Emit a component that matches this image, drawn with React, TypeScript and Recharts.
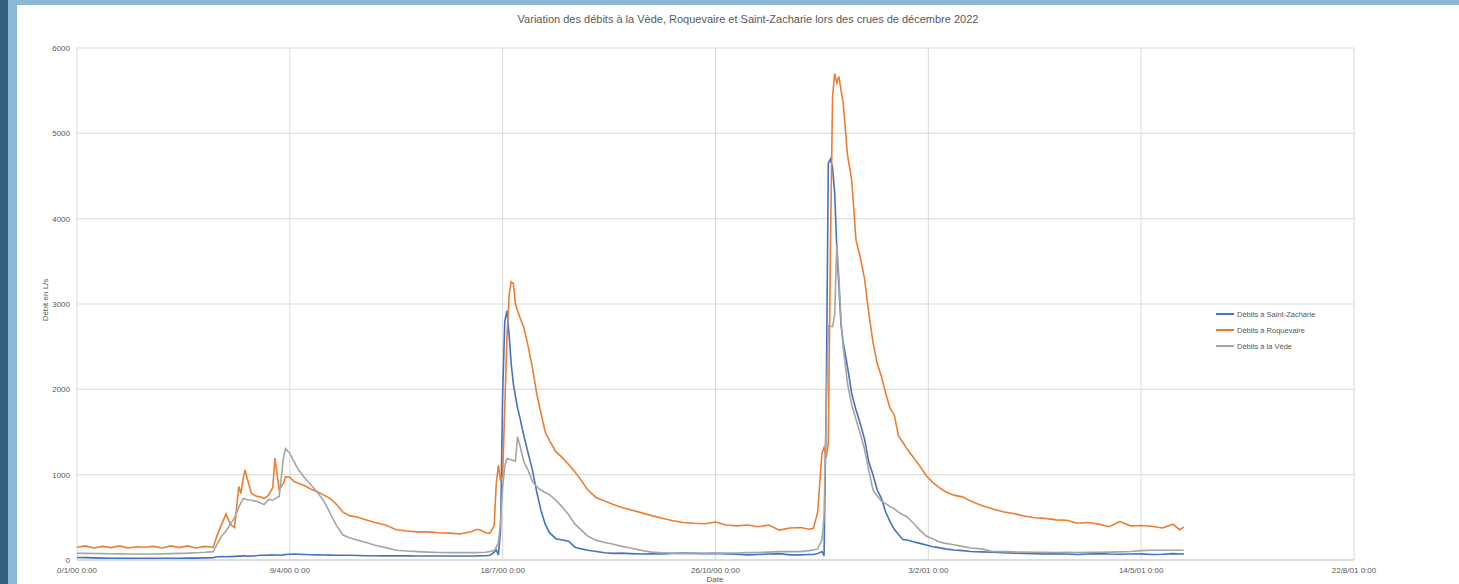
import { LineChart, Line, XAxis, YAxis, CartesianGrid, Legend } from 'recharts'

// jours (numéro de série Excel) de chaque mesure
const days = [
  0, 4, 8, 12, 16, 20, 24, 28, 32, 36, 40, 44, 48, 52, 56, 60, 64,
  66, 68, 70, 72, 74, 76, 77, 78, 79, 80,
  82, 84, 86, 88, 90, 92, 93, 95, 97, 98,
  100, 102, 104, 107, 110, 113, 116, 119, 122, 125,
  128, 132, 136, 140, 145, 150, 155, 160, 165, 170,
  175, 180, 185, 188, 190, 192, 194, 196, 197, 198,
  199, 200, 201, 202, 203, 204, 205, 206, 207, 208,
  210, 212, 214, 216, 218, 220, 222, 225, 228, 231,
  234, 237, 240, 244, 248, 252, 256, 260, 265, 270,
  275, 280, 285, 290, 295, 300, 305, 310, 315, 320,
  325, 330, 335, 340, 344, 346, 348, 350, 351, 352,
  353, 354, 355, 356, 357, 358, 359, 360, 362, 364,
  366, 368, 370, 372, 374, 376, 378, 380, 382, 384,
  386, 388, 390, 393, 396, 399, 402, 405, 408, 412,
  416, 420, 425, 430, 435, 440, 445, 450, 455, 460,
  465, 470, 475, 480, 485, 490, 495, 500, 505, 510,
  515, 518, 520
]

const saintZacharie = [
  30, 28, 25, 22, 20, 20, 20, 20, 20, 20, 20, 20, 20, 22, 22, 25, 28,
  38, 40, 38, 40, 42, 45, 45, 48, 50, 45,
  46, 50, 55, 55, 58, 57, 58, 58, 60, 65,
  68, 70, 68, 65, 62, 60, 58, 57, 56, 55,
  55, 52, 50, 50, 48, 48, 48, 47, 47, 47,
  47, 47, 47, 48, 50, 50, 55, 90, 117, 60,
  350, 1950, 2800, 2920, 2650, 2300, 2070, 1920, 1780, 1680,
  1450, 1250, 1050, 800, 580, 420, 320, 250, 235, 220,
  150, 130, 115, 100, 85, 78, 80, 75, 70, 72,
  70, 78, 80, 78, 75, 78, 72, 68, 60, 65,
  70, 75, 60, 60, 65, 65, 75, 100, 50, 1800,
  4650, 4700, 4600, 4300, 3650, 3200, 2750, 2550, 2265, 1950,
  1760, 1600, 1420, 1150, 1000, 820, 720, 560, 450, 360,
  300, 240, 234, 215, 195, 175, 156, 145, 130, 117,
  110, 100, 95, 90, 85, 80, 78, 75, 70, 75,
  70, 65, 70, 75, 70, 68, 70, 72, 65, 68,
  75, 70, 72
]

const roquevaire = [
  150, 165, 140, 160, 145, 165, 140, 155, 150, 160, 140, 165, 145, 165, 140, 160, 150,
  300, 420, 540, 420, 380, 860, 780, 950, 1055, 950,
  780, 750, 740, 720, 760, 850, 1195, 820, 900, 975,
  970, 920, 900, 870, 830, 800, 760, 720, 650, 560,
  520, 500, 470, 440, 410, 355, 340, 330, 330, 320,
  315, 305, 330, 360, 345, 320, 315, 400, 900, 1110,
  920, 1000, 1800, 2600, 3100, 3260, 3240, 3000, 2920, 2850,
  2720, 2500, 2250, 1950, 1720, 1500, 1400, 1270, 1200, 1120,
  1030, 930, 820, 730, 690, 650, 615, 590, 555, 520,
  490, 460, 440, 430, 425, 445, 410, 400, 410, 390,
  410, 350, 375, 380, 360, 371, 560, 1250, 1320, 1200,
  1370, 3630, 5430, 5700, 5590, 5665, 5500, 5350, 4750, 4450,
  3750, 3550, 3300, 2900, 2550, 2300, 2150, 1950, 1780, 1700,
  1450, 1380, 1300, 1200, 1100, 990, 910, 850, 800, 760,
  740, 690, 640, 600, 565, 545, 515, 495, 488, 470,
  465, 430, 440, 420, 390, 450, 400, 405, 395, 375,
  420, 355, 385
]

const vede = [
  78, 78, 76, 75, 74, 72, 70, 70, 70, 70, 72, 75, 78, 80, 85, 90, 98,
  195, 280, 340, 420, 490, 620, 670, 720, 715, 705,
  700, 690, 670, 650, 710, 700, 720, 745, 1200, 1305,
  1250, 1150, 1060, 960, 880, 790, 690, 545, 400, 293,
  260, 232, 205, 172, 145, 115, 105, 98, 92, 88,
  86, 86, 86, 86, 88, 90, 100, 110, 150, 200,
  450, 850, 1100, 1190, 1180, 1175, 1165, 1160, 1445, 1350,
  1150, 1050, 920, 860, 820, 790, 765, 700, 620, 530,
  420, 350, 280, 230, 205, 185, 160, 140, 115, 92,
  85, 80, 78, 78, 78, 80, 80, 82, 86, 88,
  92, 98, 98, 98, 110, 117, 130, 234, 500, 1680,
  2750, 2740, 2735, 2870, 3710, 3300, 2800, 2500, 2070, 1820,
  1650, 1485, 1300, 1050, 820, 750, 690, 660, 625, 600,
  560, 530, 508, 430, 350, 280, 250, 215, 195, 178,
  160, 140, 130, 100, 98, 95, 92, 90, 90, 88,
  90, 88, 90, 90, 92, 95, 100, 110, 115, 115,
  115, 115, 115
]

const xTicks = [0, 100, 200, 300, 400, 500, 600]
const xTickLabels = ['0/1/00 0:00', '9/4/00 0:00', '18/7/00 0:00', '26/10/00 0:00', '3/2/01 0:00', '14/5/01 0:00', '22/8/01 0:00']
const yTicks = [0, 1000, 2000, 3000, 4000, 5000, 6000]

const series = [
  { key: 'sz', name: 'Débits à Saint-Zacharie', color: '#4472C4' },
  { key: 'roq', name: 'Débits à Roquevaire', color: '#ED7D31' },
  { key: 'vede', name: 'Débits à la Vède', color: '#A5A5A5' }
]

const data = days.map((d, i) => ({
  day: d,
  sz: saintZacharie[i],
  roq: roquevaire[i],
  vede: vede[i]
}))

const textColor = '#595959'
const gridColor = '#d9d9d9'

const renderLegend = () => (
  <div>
    {series.map(s => (
      <div key={s.key} style={{ display: 'flex', alignItems: 'center', height: 16 }}>
        <span style={{ display: 'inline-block', width: 18, borderTop: `2px solid ${s.color}`, marginRight: 3 }} />
        <span style={{ fontSize: 7.5, color: textColor, whiteSpace: 'nowrap' }}>{s.name}</span>
      </div>
    ))}
  </div>
)

const App = () => {
  return (
    <div style={{ position: 'fixed', left: 0, top: 0, width: 1459, height: 584, background: '#8cb8d5', overflow: 'hidden', fontFamily: '"Liberation Sans", Arial, sans-serif' }}>
      <div style={{ position: 'absolute', left: 0, top: 0, width: 8, height: 584, background: '#325f7e' }} />
      <div style={{ position: 'absolute', left: 17, top: 5, width: 1442, height: 579, background: '#fff' }}>
        <div style={{ position: 'absolute', left: 431, top: 8, width: 600, textAlign: 'center', fontSize: 11, lineHeight: '12px', color: textColor }}>
          Variation des débits à la Vède, Roquevaire et Saint-Zacharie lors des crues de décembre 2022
        </div>
        <LineChart width={1442} height={579} data={data} margin={{ top: 43, right: 105, left: 0, bottom: 0 }}>
          <CartesianGrid stroke={gridColor} strokeWidth={1} />
          <XAxis
            dataKey="day"
            type="number"
            domain={[0, 600]}
            ticks={xTicks}
            interval={0}
            height={24}
            tickLine={false}
            tickSize={0}
            tickMargin={7}
            axisLine={{ stroke: gridColor, strokeWidth: 1.5 }}
            tick={{ fontSize: 8, fill: textColor }}
            tickFormatter={(v: number) => xTickLabels[xTicks.indexOf(v)] ?? ''}
            label={{
              content: () => (
                <text x={698} y={577} textAnchor="middle" fontSize={8} fill={textColor}>Date</text>
              )
            }}
          />
          <YAxis
            type="number"
            domain={[0, 6000]}
            ticks={yTicks}
            width={60}
            tickLine={false}
            axisLine={false}
            tickSize={0}
            tickMargin={7}
            tick={{ fontSize: 8, fill: textColor }}
            label={{
              content: () => (
                <text x={29} y={295} transform="rotate(-90 29 295)" textAnchor="middle" dominantBaseline="middle" fontSize={8} fill={textColor}>Débit en L/s</text>
              )
            }}
          />
          <Legend
            layout="vertical"
            align="center"
            verticalAlign="middle"
            content={renderLegend}
            wrapperStyle={{ left: 1199, top: 301, width: 130, height: 48 }}
          />
          {series.map(s => (
            <Line
              key={s.key}
              type="linear"
              dataKey={s.key}
              name={s.name}
              stroke={s.color}
              strokeWidth={1.6}
              dot={false}
              activeDot={false}
              isAnimationActive={false}
            />
          ))}
        </LineChart>
      </div>
    </div>
  )
}

export default App
